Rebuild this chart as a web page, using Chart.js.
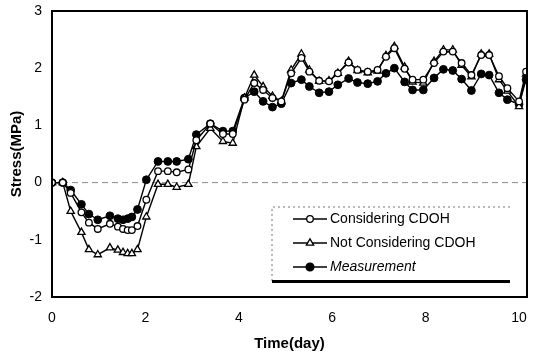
<!DOCTYPE html>
<html>
<head>
<meta charset="utf-8">
<script src="https://cdn.jsdelivr.net/npm/chart.js@4/dist/chart.umd.min.js"></script>
<style>
html, body { margin: 0; padding: 0; background: #fff; }
</style>
</head>
<body>
<canvas id="chart" width="535" height="357"></canvas>
<script>
// time axis (day) shared by all three series
const times = [
    0, 0.23, 0.40, 0.63, 0.79, 0.98, 1.24, 1.41, 1.52, 1.62, 1.71, 1.83, 2.02,
    2.27, 2.48, 2.67, 2.92, 3.09, 3.39, 3.66, 3.87,
    4.12, 4.33, 4.52, 4.72, 4.91, 5.12, 5.34, 5.51, 5.72, 5.93,
    6.12, 6.35, 6.54, 6.76, 6.97, 7.15, 7.33, 7.55, 7.72, 7.95,
    8.18, 8.38, 8.58, 8.77, 8.98, 9.19, 9.36, 9.57, 9.75, 10.0, 10.15
];
const considering = [
    0, 0, -0.18, -0.52, -0.70, -0.81, -0.72, -0.77, -0.81, -0.83, -0.83, -0.76, -0.30,
    0.20, 0.20, 0.18, 0.23, 0.74, 1.03, 0.85, 0.85,
    1.45, 1.74, 1.62, 1.48, 1.42, 1.91, 2.18, 1.94, 1.78, 1.77,
    1.91, 2.10, 1.97, 1.94, 1.97, 2.20, 2.35, 1.99, 1.80, 1.80,
    2.09, 2.29, 2.29, 2.09, 1.88, 2.23, 2.23, 1.86, 1.65, 1.42, 1.94
];
const notConsidering = [
    0, 0, -0.50, -0.87, -1.17, -1.26, -1.14, -1.18, -1.22, -1.24, -1.24, -1.17, -0.60,
    -0.03, -0.03, -0.08, -0.03, 0.63, 0.95, 0.72, 0.69,
    1.48, 1.88, 1.68, 1.51, 1.42, 1.97, 2.25, 1.97, 1.77, 1.78,
    1.91, 2.12, 1.96, 1.92, 1.95, 2.22, 2.38, 2.02, 1.76, 1.74,
    2.12, 2.32, 2.32, 2.05, 1.85, 2.25, 2.25, 1.80, 1.60, 1.33, 1.90
];
const measurement = [
    0, 0, -0.13, -0.38, -0.55, -0.65, -0.58, -0.63, -0.65, -0.63, -0.60, -0.47, 0.05,
    0.37, 0.37, 0.37, 0.41, 0.84, 1.03, 0.90, 0.90,
    1.48, 1.59, 1.42, 1.32, 1.38, 1.74, 1.80, 1.68, 1.57, 1.59,
    1.71, 1.82, 1.75, 1.73, 1.77, 1.91, 2.00, 1.76, 1.62, 1.62,
    1.83, 1.98, 1.96, 1.81, 1.61, 1.90, 1.88, 1.57, 1.45, 1.37, 1.80
];
const seriesNames = ['Considering CDOH', 'Not Considering CDOH', 'Measurement'];
const xTicks = [0, 2, 4, 6, 8, 10];

const FONT = '"Liberation Sans", Arial, sans-serif';

function toPoints(values) {
    return values.map((v, i) => ({x: times[i], y: v}));
}

// grey dashed zero line + frame round the plot
const framePlugin = {
    id: 'frame',
    beforeDatasetsDraw(chart) {
        const {ctx, chartArea: a, scales} = chart;
        const y0 = scales.y.getPixelForValue(0);
        ctx.save();
        ctx.strokeStyle = '#8a8a8a';
        ctx.lineWidth = 1;
        ctx.setLineDash([6, 4]);
        ctx.beginPath();
        ctx.moveTo(a.left, y0);
        ctx.lineTo(a.right, y0);
        ctx.stroke();
        ctx.restore();
    },
    afterDraw(chart) {
        const {ctx, chartArea: a} = chart;
        ctx.save();
        ctx.strokeStyle = '#000';
        ctx.lineWidth = 2;
        ctx.strokeRect(a.left, a.top, a.right - a.left, a.bottom - a.top);
        ctx.restore();
    }
};

// legend box in the lower right of the plot
const legendPlugin = {
    id: 'boxLegend',
    afterDraw(chart) {
        const ctx = chart.ctx;
        const bx = 272, by = 207, bw = 238, bh = 74;
        ctx.save();
        ctx.fillStyle = '#fff';
        ctx.fillRect(bx, by, bw, bh);
        ctx.strokeStyle = '#777';
        ctx.lineWidth = 1;
        ctx.setLineDash([2, 3]);
        ctx.beginPath();
        ctx.moveTo(bx, by + bh);
        ctx.lineTo(bx, by);
        ctx.lineTo(bx + bw, by);
        ctx.stroke();
        ctx.setLineDash([]);
        ctx.fillStyle = '#000';
        ctx.fillRect(bx, by + bh - 1, bw, 3);

        const rows = [219, 243, 267];
        chart.data.datasets.forEach((ds, i) => {
            const y = rows[i];
            ctx.strokeStyle = '#000';
            ctx.lineWidth = 1.4;
            ctx.beginPath();
            ctx.moveTo(293, y);
            ctx.lineTo(327, y);
            ctx.stroke();
            ctx.fillStyle = ds.pointBackgroundColor;
            ctx.lineWidth = 1.3;
            ctx.beginPath();
            if (ds.pointStyle === 'triangle') {
                const r = ds.pointRadius;
                ctx.moveTo(310, y - r);
                ctx.lineTo(310 + r * 0.87, y + r * 0.5);
                ctx.lineTo(310 - r * 0.87, y + r * 0.5);
                ctx.closePath();
            } else {
                ctx.arc(310, y, ds.pointRadius, 0, Math.PI * 2);
            }
            ctx.fill();
            ctx.stroke();
            ctx.fillStyle = '#000';
            ctx.font = (i === 2 ? 'italic ' : '') + '14px ' + FONT;
            ctx.textBaseline = 'middle';
            ctx.fillText(ds.label, 330, y);
        });
        ctx.restore();
    }
};

const config = {
    type: 'line',
    data: {
        datasets: [
            {
                label: seriesNames[0],
                data: toPoints(considering),
                borderColor: '#000',
                borderWidth: 1.4,
                pointStyle: 'circle',
                pointRadius: 3.3,
                pointBackgroundColor: '#fff',
                pointBorderColor: '#000',
                pointBorderWidth: 1.3
            },
            {
                label: seriesNames[1],
                data: toPoints(notConsidering),
                borderColor: '#000',
                borderWidth: 1.4,
                pointStyle: 'triangle',
                pointRadius: 4.2,
                pointBackgroundColor: '#fff',
                pointBorderColor: '#000',
                pointBorderWidth: 1.3
            },
            {
                label: seriesNames[2],
                data: toPoints(measurement),
                borderColor: '#000',
                borderWidth: 1.4,
                pointStyle: 'circle',
                pointRadius: 3.9,
                pointBackgroundColor: '#000',
                pointBorderColor: '#000',
                pointBorderWidth: 1
            }
        ]
    },
    options: {
        responsive: false,
        animation: false,
        layout: {
            padding: {top: 11, right: 8, left: 4, bottom: 0}
        },
        plugins: {
            legend: {display: false},
            tooltip: {enabled: false}
        },
        scales: {
            x: {
                type: 'linear',
                min: 0,
                max: 10.17,
                afterBuildTicks(scale) {
                    scale.ticks = xTicks.map(v => ({value: v}));
                },
                afterFit(scale) {
                    scale.height = 60;
                    scale.paddingLeft = 0;
                    scale.paddingRight = 0;
                },
                ticks: {
                    padding: 13,
                    color: '#000',
                    font: {family: FONT, size: 14}
                },
                grid: {display: false, drawTicks: false},
                border: {display: false},
                title: {
                    display: true,
                    text: 'Time(day)',
                    color: '#000',
                    font: {family: FONT, size: 15, weight: 'bold'},
                    padding: {top: 6}
                }
            },
            y: {
                min: -2,
                max: 3,
                afterFit(scale) {
                    scale.width = 48;
                    scale.paddingTop = 0;
                    scale.paddingBottom = 0;
                },
                ticks: {
                    stepSize: 1,
                    padding: 10,
                    color: '#000',
                    font: {family: FONT, size: 14}
                },
                grid: {display: false, drawTicks: false},
                border: {display: false},
                title: {
                    display: true,
                    text: 'Stress(MPa)',
                    color: '#000',
                    font: {family: FONT, size: 15, weight: 'bold'},
                    padding: {bottom: 4}
                }
            }
        }
    },
    plugins: [framePlugin, legendPlugin]
};

new Chart(document.getElementById('chart'), config);
</script>
</body>
</html>
